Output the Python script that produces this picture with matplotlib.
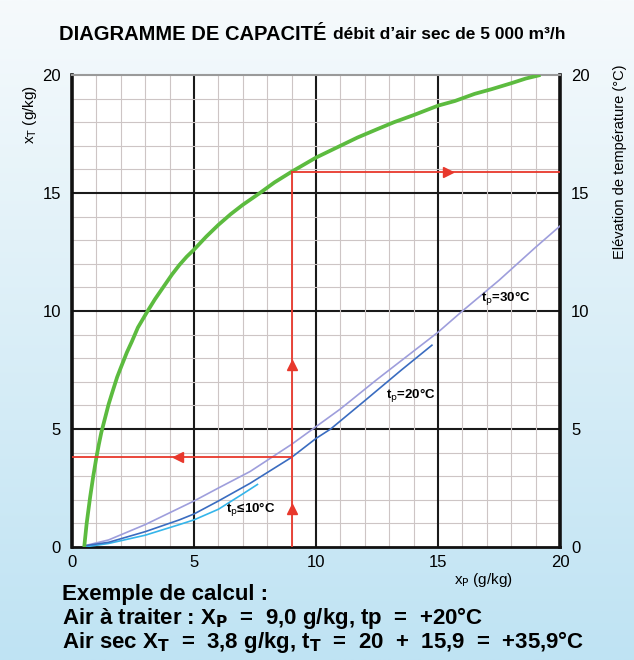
import numpy as np
import matplotlib
matplotlib.use("Agg")
import matplotlib.pyplot as plt
from matplotlib.colors import LinearSegmentedColormap

# data
green_x = [0.5, 0.6, 0.74, 0.87, 1.0, 1.1, 1.2, 1.35, 1.5, 1.65, 1.85, 2.0, 2.25, 2.45,
           2.7, 2.9, 3.1, 3.4, 3.8, 4.1, 4.4, 4.7, 5.0, 5.5, 6.0, 6.5, 7.0, 7.7, 8.3,
           9.0, 9.5, 10.0, 10.5, 11.0, 11.7, 12.5, 13.2, 14.0, 14.5, 15.0, 15.7,
           16.5, 17.2, 18.0, 18.6, 19.2]
green_y = [0.0, 1.0, 2.1, 3.0, 3.8, 4.35, 4.85, 5.45, 6.05, 6.55, 7.2, 7.6, 8.25, 8.7,
           9.3, 9.65, 10.0, 10.5, 11.1, 11.55, 11.95, 12.3, 12.6, 13.15, 13.65, 14.1,
           14.5, 15.0, 15.45, 15.9, 16.2, 16.5, 16.75, 17.0, 17.35, 17.7, 18.0, 18.3,
           18.5, 18.7, 18.9, 19.2, 19.4, 19.65, 19.85, 20.0]

t30_x = [0.5, 1.5, 3.0, 4.4, 5.0, 6.0, 7.3, 9.0, 10.0, 11.0, 12.5, 14.0, 15.0, 16.0, 17.5, 19.0, 20.0]
t30_y = [0.05, 0.3, 0.95, 1.65, 1.95, 2.5, 3.2, 4.35, 5.1, 5.85, 7.1, 8.3, 9.1, 10.0, 11.3, 12.7, 13.6]

t20_x = [0.5, 1.5, 3.0, 4.4, 5.0, 6.0, 7.3, 9.0, 10.0, 10.6, 12.0, 13.5, 14.75]
t20_y = [0.05, 0.2, 0.65, 1.15, 1.4, 1.95, 2.7, 3.8, 4.6, 5.0, 6.2, 7.5, 8.55]

t10_x = [0.5, 1.5, 3.0, 4.4, 5.0, 6.0, 7.0, 7.6]
t10_y = [0.0, 0.15, 0.5, 0.95, 1.15, 1.6, 2.25, 2.65]

xp_example = 9.0
xt_example = 3.8
dt_example = 15.9

ticks = [0, 5, 10, 15, 20]

RED = "#e8382c"
plt.rcParams["font.family"] = ["Liberation Sans", "DejaVu Sans"]

fig = plt.figure(figsize=(6.34, 6.60), dpi=100)

# background gradient
bg = fig.add_axes([0, 0, 1, 1], zorder=-10)
cmap = LinearSegmentedColormap.from_list("bg", ["#f6fafc", "#bfe3f3"])
bg.imshow(np.linspace(0, 1, 256).reshape(-1, 1), aspect="auto", cmap=cmap,
          extent=[0, 1, 0, 1])
bg.axis("off")

ax = fig.add_axes([0.1136, 0.1712, 0.7697, 0.7152])
ax.set_facecolor("white")
ax.set_xlim(0, 20)
ax.set_ylim(0, 20)

# grid: thin every unit, black every 5
for v in range(1, 20):
    major = v % 5 == 0
    c = "#1a1a1a" if major else "#cdc5c5"
    lw = 1.5 if major else 0.8
    ax.axvline(v, color=c, lw=lw, zorder=1)
    ax.axhline(v, color=c, lw=lw, zorder=1)

for s in ["left", "right"]:
    ax.spines[s].set_linewidth(2.6)
    ax.spines[s].set_color("#111111")
ax.spines["bottom"].set_linewidth(2.0)
ax.spines["bottom"].set_color("#111111")
ax.spines["top"].set_linewidth(1.5)
ax.spines["top"].set_color("#9a9a9a")

ax.set_xticks(ticks)
ax.set_yticks(ticks)
ax.tick_params(length=0, labelsize=12, labelright=True, pad=8)
ax.tick_params(axis="x", pad=6)

# curves
ax.plot(t10_x, t10_y, color="#35b5ea", lw=1.2, zorder=3)
ax.plot(t30_x, t30_y, color="#9e9edc", lw=1.2, zorder=3)
ax.plot(t20_x, t20_y, color="#3a6cc0", lw=1.2, zorder=3)
ax.plot(green_x, green_y, color="#5cbb3f", lw=2.7, zorder=4,
        solid_capstyle="butt", solid_joinstyle="round")

# example construction
ax.plot([xp_example, xp_example], [0, dt_example], color=RED, lw=1.3, zorder=5)
ax.plot([xp_example, 20], [dt_example, dt_example], color=RED, lw=1.3, zorder=5)
ax.plot([0, xp_example], [xt_example, xt_example], color=RED, lw=1.3, zorder=5)
ax.plot([xp_example, xp_example], [1.6, 7.7], ls="none", marker="^",
        color=RED, ms=7.5, zorder=6)
ax.plot([15.4], [dt_example], ls="none", marker=">", color=RED, ms=7.5, zorder=6)
ax.plot([4.35], [xt_example], ls="none", marker="<", color=RED, ms=7.5, zorder=6)

# curve labels
ax.text(17.8, 10.5, r"t$_\mathrm{p}$=30°C", fontsize=9.5, fontweight="bold",
        ha="center", va="center", zorder=7)
ax.text(13.9, 6.4, r"t$_\mathrm{p}$=20°C", fontsize=9.5, fontweight="bold",
        ha="center", va="center", zorder=7)
ax.text(7.3, 1.55, r"t$_\mathrm{p}$≤10°C", fontsize=9.5, fontweight="bold",
        ha="center", va="center", zorder=7)

# axis labels
fig.text(0.047, 0.826, r"x$_\mathrm{T}$ (g/kg)", rotation=90, fontsize=11,
         ha="center", va="center")
fig.text(0.978, 0.755, "Elévation de température (°C)", rotation=90,
         fontsize=10.5, ha="center", va="center")
fig.text(0.762, 0.121, r"x$_\mathrm{P}$ (g/kg)", fontsize=11, ha="center",
         va="center")

# title
fig.text(0.093, 0.947, "DIAGRAMME DE CAPACITÉ", fontsize=14.5, fontweight="bold",
         ha="left", va="center")
fig.text(0.525, 0.947, "débit d’air sec de 5 000 m³/h", fontsize=12.5,
         fontweight="bold", ha="left", va="center")

# example text
fig.text(0.098, 0.099, "Exemple de calcul :", fontsize=16, fontweight="bold",
         ha="left", va="center")
fig.text(0.098, 0.063,
         r"Air à traiter : X$_\mathbf{P}$  =  9,0 g/kg, tp  =  +20°C",
         fontsize=16, fontweight="bold", ha="left", va="center")
fig.text(0.098, 0.027,
         r"Air sec X$_\mathbf{T}$  =  3,8 g/kg, t$_\mathbf{T}$  =  20  +  15,9  =  +35,9°C",
         fontsize=16, fontweight="bold", ha="left", va="center")

fig.savefig("out.png", dpi=100)
